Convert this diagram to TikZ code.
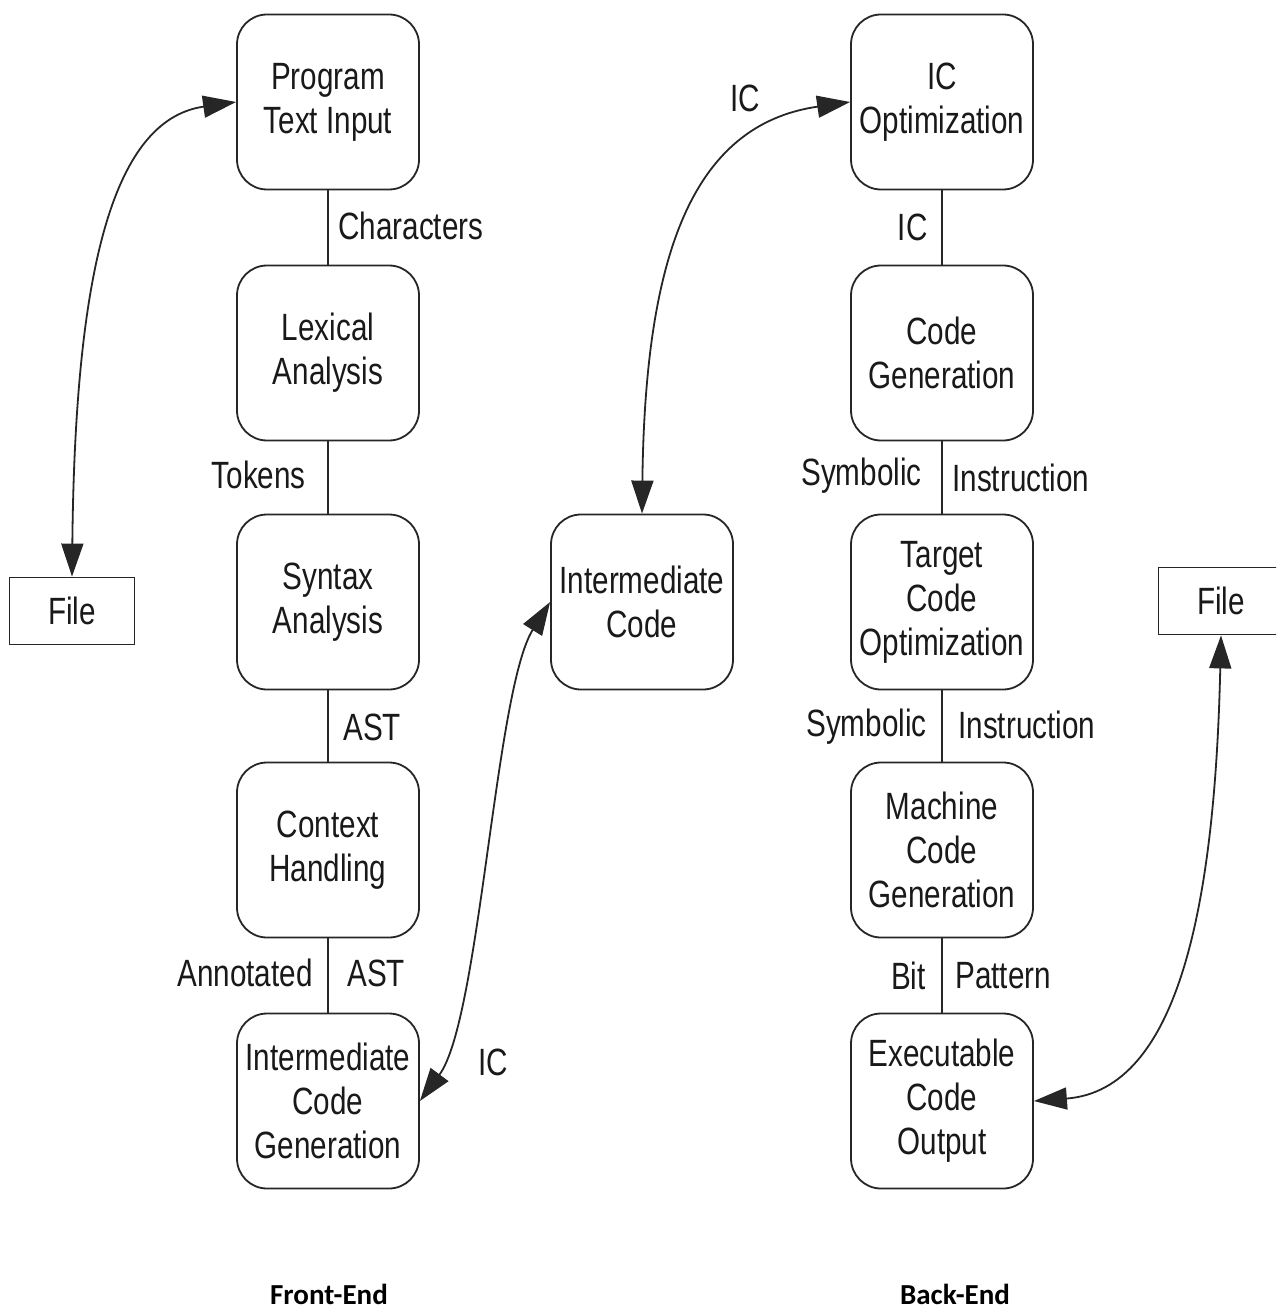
\documentclass[tikz,border=0pt]{standalone}
\usepackage{fontspec}
\setmainfont{Liberation Sans}[FakeStretch=0.78]
\newfontfamily\carlito{Carlito}
\usetikzlibrary{arrows.meta}
\begin{document}
\begin{tikzpicture}[x=0.5pt,y=-0.5pt,
  txt/.style={font=\fontsize{19}{22}\selectfont, text=black!90},
  stage/.style={txt, draw=black!85, line width=0.9pt, rounded corners=15pt,
    minimum width=91pt, minimum height=87.5pt, align=center, inner sep=0pt},
  filebox/.style={txt, draw=black!85, line width=0.9pt, minimum width=62.5pt,
    minimum height=33.5pt, inner sep=0pt},
  lbl/.style={txt, inner sep=0pt},
  link/.style={draw=black!85, line width=0.9pt},
  dbl/.style={link, {Triangle[length=16.5pt,width=11pt]}-{Triangle[length=16.5pt,width=11pt]}},
  title/.style={font=\carlito\bfseries\fontsize{14.5}{17}\selectfont, inner sep=0pt}
]
\useasboundingbox (0,0) rectangle (1276,1310);
\fill[white] (0,0) rectangle (1276,1310);
\clip (0,0) rectangle (1276,1310);

% front-end column
\node[stage] (pti) at (328,102)  {Program\\Text Input};
\node[stage] (lex) at (328,353)  {Lexical\\Analysis};
\node[stage] (syn) at (328,602)  {Syntax\\Analysis};
\node[stage] (ctx) at (328,850)  {Context\\Handling};
\node[stage] (icg) at (328,1101) {Intermediate\\Code\\Generation};

% middle
\node[stage] (ic) at (642,602) {Intermediate\\Code};

% back-end column
\node[stage] (ico) at (942,102)  {IC\\Optimization};
\node[stage] (cg)  at (942,353)  {Code\\Generation};
\node[stage] (tco) at (942,602)  {Target\\Code\\Optimization};
\node[stage] (mcg) at (942,850)  {Machine\\Code\\Generation};
\node[stage] (eco) at (942,1101) {Executable\\Code\\Output};

% files
\node[filebox] (fileL) at (72,611)   {File};
\node[filebox] (fileR) at (1221,601) {File};

% vertical links
\draw[link] (pti) -- (lex);
\draw[link] (lex) -- (syn);
\draw[link] (syn) -- (ctx);
\draw[link] (ctx) -- (icg);
\draw[link] (ico) -- (cg);
\draw[link] (cg)  -- (tco);
\draw[link] (tco) -- (mcg);
\draw[link] (mcg) -- (eco);

% link labels
\node[lbl, anchor=west] (l1) at (338,226) {Characters};
\node[lbl, anchor=east] (l2) at (306,475) {Tokens};
\node[lbl, anchor=west] (l3) at (343,727) {AST};
\node[lbl, anchor=east] (l4a) at (313,973) {Annotated};
\node[lbl, anchor=west] (l4b) at (347,973) {AST};
\node[lbl, anchor=east] (r1) at (928,227) {IC};
\node[lbl, anchor=east] (r2a) at (922,476) {Symbolic};
\node[lbl, anchor=west] (r2b) at (952,478) {Instruction};
\node[lbl, anchor=east] (r3a) at (927,727) {Symbolic};
\node[lbl, anchor=west] (r3b) at (958,725) {Instruction};
\node[lbl, anchor=east] (r4a) at (926,976) {Bit};
\node[lbl, anchor=west] (r4b) at (955,976) {Pattern};
\node[lbl] (m1) at (745,98)  {IC};
\node[lbl] (m2) at (493,1062) {IC};

% curved double arrows
\draw[dbl] (fileL.north) .. controls (75,280) and (110,120) .. (pti.west);
\draw[dbl] (ic.north) .. controls (645,260) and (690,125) .. (ico.west);
\draw[dbl] (icg.east) .. controls (480,1020) and (495,690) .. (ic.west);
\draw[dbl] (fileR.south) .. controls (1215,900) and (1180,1090) .. (eco.east);

% section titles
\node[title, anchor=base] (fe) at (329,1304) {Front-End};
\node[title, anchor=base] (be) at (955,1304) {Back-End};
\end{tikzpicture}
\end{document}
